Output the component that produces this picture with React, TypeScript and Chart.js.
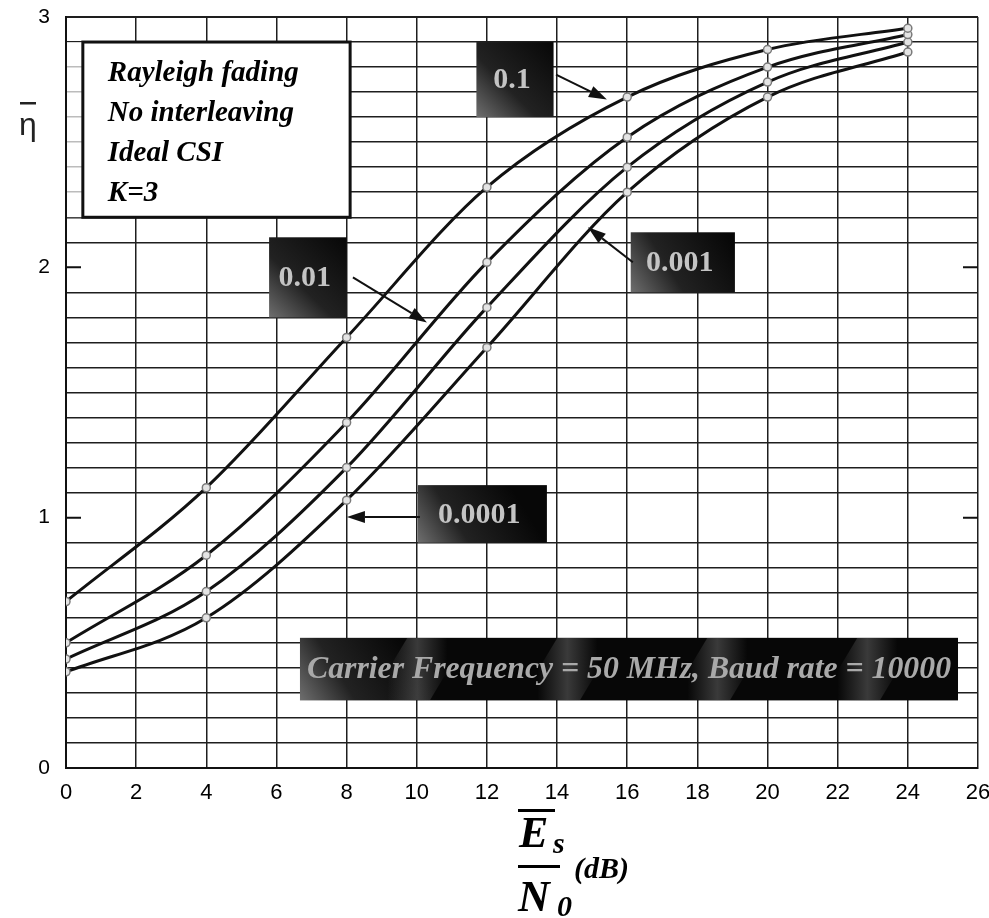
import React, { useEffect, useRef } from 'react';
import { Chart, registerables } from 'chart.js';

Chart.register(...registerables);

// Average SNR points (dB) where the throughput was evaluated
const esN0 = [0, 4, 8, 12, 16, 20, 24];

// Normalised throughput for each target bit error rate
const eta_1e1 = [0.665, 1.12, 1.72, 2.32, 2.68, 2.87, 2.955];
const eta_1e2 = [0.5, 0.85, 1.38, 2.02, 2.52, 2.8, 2.93];
const eta_1e3 = [0.435, 0.705, 1.2, 1.84, 2.4, 2.74, 2.9];
const eta_1e4 = [0.384, 0.6, 1.07, 1.68, 2.3, 2.68, 2.86];

const seriesNames = ['0.1', '0.01', '0.001', '0.0001'];
const seriesValues = [eta_1e1, eta_1e2, eta_1e3, eta_1e4];

const conditionLines = ['Rayleigh fading', 'No interleaving', 'Ideal CSI', 'K=3'];
const bannerText = 'Carrier Frequency = 50 MHz, Baud rate = 10000';

// Callout boxes (data coordinates) with their arrows
const callouts = [
  { name: '0.1', x0: 11.7, x1: 13.9, y0: 2.6, y1: 2.9, from: [13.97, 2.77], to: [15.42, 2.67] },
  { name: '0.01', x0: 5.79, x1: 8.0, y0: 1.8, y1: 2.12, from: [8.18, 1.96], to: [10.29, 1.78] },
  { name: '0.001', x0: 16.1, x1: 19.07, y0: 1.9, y1: 2.14, from: [16.16, 2.02], to: [14.88, 2.16] },
  { name: '0.0001', x0: 10.03, x1: 13.71, y0: 0.9, y1: 1.13, from: [10.09, 1.003], to: [8.01, 1.003] },
];
const conditionBox = { x0: 0.48, x1: 8.1, y0: 2.2, y1: 2.9 };
const bannerBox = { x0: 6.67, x1: 25.43, y0: 0.27, y1: 0.52 };

const SERIF = '"Liberation Serif", "Times New Roman", serif';
const SANS = '"Liberation Sans Narrow", "Liberation Sans", Arial, sans-serif';

function darkPanel(ctx: CanvasRenderingContext2D, l: number, t: number, w: number, h: number, streaks: boolean) {
  const g = ctx.createLinearGradient(l, t + h, l + Math.min(w, h * 1.6), t);
  g.addColorStop(0, '#6e6e6e');
  g.addColorStop(0.4, '#222');
  g.addColorStop(1, '#070707');
  ctx.fillStyle = g;
  ctx.fillRect(l, t, w, h);
  if (streaks) {
    ctx.save();
    ctx.beginPath();
    ctx.rect(l, t, w, h);
    ctx.clip();
    const band = 150;
    for (let s = l - h; s < l + w; s += band) {
      const sg = ctx.createLinearGradient(s, t, s + 60, t);
      sg.addColorStop(0, 'rgba(120,120,120,0)');
      sg.addColorStop(0.5, 'rgba(120,120,120,0.45)');
      sg.addColorStop(1, 'rgba(120,120,120,0)');
      ctx.fillStyle = sg;
      ctx.beginPath();
      ctx.moveTo(s + 20, t);
      ctx.lineTo(s + 80, t);
      ctx.lineTo(s + 80 - h * 0.6, t + h);
      ctx.lineTo(s + 20 - h * 0.6, t + h);
      ctx.closePath();
      ctx.fill();
    }
    ctx.restore();
  }
}

function arrow(ctx: CanvasRenderingContext2D, x0: number, y0: number, x1: number, y1: number) {
  const ang = Math.atan2(y1 - y0, x1 - x0);
  const len = 18;
  const half = 6;
  const bx = x1 - Math.cos(ang) * len;
  const by = y1 - Math.sin(ang) * len;
  ctx.strokeStyle = '#111';
  ctx.lineWidth = 2;
  ctx.beginPath();
  ctx.moveTo(x0, y0);
  ctx.lineTo(bx, by);
  ctx.stroke();
  ctx.fillStyle = '#111';
  ctx.beginPath();
  ctx.moveTo(x1, y1);
  ctx.lineTo(bx + Math.sin(ang) * half, by - Math.cos(ang) * half);
  ctx.lineTo(bx - Math.sin(ang) * half, by + Math.cos(ang) * half);
  ctx.closePath();
  ctx.fill();
}

const overlayPlugin = {
  id: 'figureOverlay',
  afterDatasetsDraw(chart: any) {
    const { ctx, chartArea: ca, scales } = chart;
    const xs = scales.x;
    const ys = scales.y;
    const px = (v: number) => xs.getPixelForValue(v);
    const py = (v: number) => ys.getPixelForValue(v);
    ctx.save();

    // short inward ticks where the major grid lines are left out
    ctx.strokeStyle = '#111';
    ctx.lineWidth = 2;
    for (const v of [1, 2]) {
      const yy = py(v);
      ctx.beginPath();
      ctx.moveTo(ca.left, yy);
      ctx.lineTo(ca.left + 15, yy);
      ctx.moveTo(ca.right - 15, yy);
      ctx.lineTo(ca.right, yy);
      ctx.stroke();
    }

    // conditions box
    {
      const l = px(conditionBox.x0), r = px(conditionBox.x1);
      const t = py(conditionBox.y1), b = py(conditionBox.y0);
      ctx.fillStyle = 'rgba(255,255,255,0.7)';
      ctx.fillRect(ca.left + 1, t, l - ca.left - 1, b - t);
      ctx.fillStyle = '#fff';
      ctx.fillRect(l, t, r - l, b - t);
      ctx.strokeStyle = '#111';
      ctx.lineWidth = 3;
      ctx.strokeRect(l, t, r - l, b - t);
      ctx.fillStyle = '#000';
      ctx.font = `italic bold 29px ${SERIF}`;
      ctx.textAlign = 'left';
      ctx.textBaseline = 'alphabetic';
      conditionLines.forEach((s, i) => ctx.fillText(s, l + 25, t + 39 + i * 40));
    }

    // callouts
    for (const c of callouts) {
      const l = px(c.x0), r = px(c.x1);
      const t = py(c.y1), b = py(c.y0);
      darkPanel(ctx, l, t, r - l, b - t, false);
      ctx.fillStyle = '#c4c4c4';
      ctx.font = `bold 30px ${SERIF}`;
      ctx.textAlign = 'center';
      ctx.textBaseline = 'middle';
      ctx.fillText(c.name, (l + r) / 2 - 3, (t + b) / 2 + 1);
      arrow(ctx, px(c.from[0]), py(c.from[1]), px(c.to[0]), py(c.to[1]));
    }

    // banner
    {
      const l = px(bannerBox.x0), r = px(bannerBox.x1);
      const t = py(bannerBox.y1), b = py(bannerBox.y0);
      darkPanel(ctx, l, t, r - l, b - t, true);
      ctx.font = `italic bold 31px ${SERIF}`;
      const w = ctx.measureText(bannerText).width;
      const target = r - l - 14;
      ctx.save();
      ctx.translate((l + r) / 2, (t + b) / 2 + 1);
      ctx.scale(target / w, 1);
      ctx.fillStyle = '#a9a9a9';
      ctx.textAlign = 'center';
      ctx.textBaseline = 'middle';
      ctx.fillText(bannerText, 0, 0);
      ctx.restore();
    }

    // y-axis title: eta with overbar
    ctx.fillStyle = '#222';
    ctx.font = `32px ${SANS}`;
    ctx.textAlign = 'center';
    ctx.textBaseline = 'alphabetic';
    ctx.fillText('\u03B7', 28, 135);
    ctx.fillRect(20, 102, 16, 2.5);

    // x-axis title: mean Es over N0 (dB)
    const cx = (ca.left + ca.right) / 2;
    const ex = cx - 3;
    ctx.fillStyle = '#000';
    ctx.textAlign = 'left';
    ctx.font = `italic bold 44px ${SERIF}`;
    ctx.fillText('E', ex, ca.bottom + 79);
    ctx.fillText('N', ex - 1, ca.bottom + 143);
    ctx.font = `italic bold 30px ${SERIF}`;
    ctx.fillText('s', ex + 34, ca.bottom + 85);
    ctx.fillText('0', ex + 38, ca.bottom + 148);
    ctx.fillText('(dB)', ex + 55, ca.bottom + 110);
    ctx.fillRect(ex - 1, ca.bottom + 41, 37, 3);
    ctx.fillRect(ex - 1, ca.bottom + 97, 42, 3);

    ctx.restore();
  },
};

const isWhole = (v: number) => Math.abs(v - Math.round(v)) < 1e-6;

export default function App() {
  const canvasRef = useRef<HTMLCanvasElement | null>(null);

  useEffect(() => {
    const canvas = canvasRef.current;
    if (!canvas) return;
    const chart = new Chart(canvas, {
      type: 'line',
      data: {
        datasets: seriesValues.map((vals, i) => ({
          label: seriesNames[i],
          data: esN0.map((xv, j) => ({ x: xv, y: vals[j] })),
          borderColor: '#111',
          borderWidth: 3,
          cubicInterpolationMode: 'monotone' as const,
          fill: false,
          pointRadius: 4,
          pointBackgroundColor: '#e4e4e4',
          pointBorderColor: '#7a7a7a',
          pointBorderWidth: 1.5,
        })),
      },
      options: {
        animation: false,
        responsive: false,
        devicePixelRatio: 1,
        layout: { padding: { top: 17, right: 11, left: 0, bottom: 0 } },
        plugins: { legend: { display: false }, tooltip: { enabled: false } },
        scales: {
          x: {
            type: 'linear',
            min: 0,
            max: 26,
            border: { display: true, color: '#111', width: 2 },
            grid: { color: '#1e1e1e', lineWidth: 1.5, drawTicks: false },
            ticks: {
              stepSize: 2,
              autoSkip: false,
              maxRotation: 0,
              padding: 12,
              color: '#000',
              font: { family: SANS, size: 22 },
            },
            afterFit: (s: any) => {
              s.height = 150;
              s.paddingLeft = 0;
              s.paddingRight = 0;
            },
          },
          y: {
            type: 'linear',
            min: 0,
            max: 3,
            border: { display: true, color: '#111', width: 2 },
            grid: {
              color: (c: any) => (c.tick && isWhole(c.tick.value) && c.tick.value > 0 && c.tick.value < 3 ? 'rgba(0,0,0,0)' : '#1e1e1e'),
              lineWidth: (c: any) => (c.tick && (c.tick.value >= 2.999) ? 2 : 1.5),
              drawTicks: false,
            },
            ticks: {
              stepSize: 0.1,
              autoSkip: false,
              padding: 16,
              color: '#000',
              font: { family: SANS, size: 21 },
              callback: (v: any) => (isWhole(Number(v)) ? String(Math.round(Number(v))) : ''),
            },
            afterFit: (s: any) => {
              s.width = 66;
              s.paddingTop = 0;
              s.paddingBottom = 0;
            },
          },
        },
      },
      plugins: [overlayPlugin],
    });
    return () => chart.destroy();
  }, []);

  return (
    <div style={{ position: 'absolute', left: 0, top: 0, width: 989, height: 918, background: '#fff' }}>
      <canvas ref={canvasRef} width={989} height={918} style={{ display: 'block' }} />
    </div>
  );
}
